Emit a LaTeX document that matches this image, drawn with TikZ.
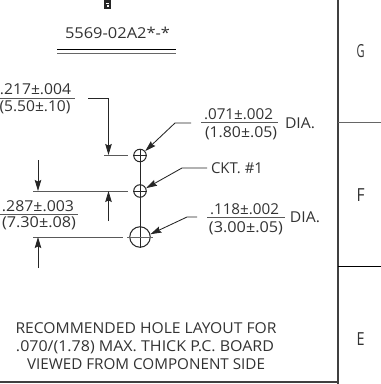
\documentclass[tikz,border=0pt]{standalone}
\usepackage{fontspec}
\usepackage{graphicx}
\setmainfont{Open Sans}
\usetikzlibrary{arrows.meta}
\newlength{\natw}
\newcommand{\fitw}[2]{\settowidth{\natw}{#2}\pgfmathsetmacro{\fitr}{#1pt/\natw}\scalebox{\fitr}[1]{#2}}
\tikzset{
  cad/.style={line width=0.85pt,draw=black!85},
  frame/.style={line width=1.4pt,draw=black!75},
  dim/.style={line width=1pt,draw=black!65},
  tip/.style={cad,-{Stealth[length=11pt,width=6.5pt,inset=1.5pt]}},
  lbl/.style={inner sep=0pt,outer sep=0pt,text=black!80,font=\fontsize{15}{17}\selectfont},
  big/.style={lbl,font=\fontsize{18}{20}\selectfont},
  hole/.style={circle,draw=black!85,line width=1pt,inner sep=0pt},
}
\begin{document}
\begin{tikzpicture}[x=1pt,y=-1pt]
\useasboundingbox (0,0) rectangle (381,384);
\fill[white] (0,0) rectangle (381,384);
% frame
\coordinate (ft) at (338,0); \coordinate (fb) at (338,384);
\coordinate (bl) at (0,382); \coordinate (br) at (338,382);
\coordinate (g0) at (338,122.5); \coordinate (g1) at (381,122.5);
\coordinate (f0) at (338,266); \coordinate (f1) at (381,266);
\draw[frame] (ft) -- (fb);
\draw[frame] (bl) -- (br);
\draw[line width=1pt,draw=black!60] (g0) -- (g1);
\draw[line width=0.8pt,draw=black] (f0) -- (f1);
\node[big] (G) at (360.5,51) {\fitw{8}{G}};
\node[big] (F) at (360.5,195) {\fitw{8}{F}};
\node[big] (E) at (360.5,339) {\fitw{8}{E}};
% top mark
\fill[black!85] (104,0) rectangle (111,9);
\fill[white] (106,2.5) rectangle (109,3.6);
\fill[white] (106.5,5.3) rectangle (108.5,7);
% title
\node[lbl] (title) at (117.5,33) {\fitw{105}{5569-02A2*-*}};
\coordinate (u1) at (57,49.5); \coordinate (u2) at (176,49.5);
\coordinate (u3) at (57,53.5); \coordinate (u4) at (176,53.5);
\draw[line width=0.8pt,draw=black] (u1) -- (u2);
\draw[line width=1pt,draw=black!60] (u3) -- (u4);
% holes
\node[hole,minimum size=12.5pt] (h1) at (140,155.5) {};
\node[hole,minimum size=12.5pt] (h2) at (140,191) {};
\node[hole,minimum size=20.5pt] (h3) at (140,237) {};
\draw[cad] (h1.north) -- (h3.south);
\draw[cad] (h1.west) -- (h1.east);
\draw[cad] (h2.west) -- (h2.east);
\coordinate (cl3a) at (127,237); \coordinate (cl3b) at (153,237);
\draw[line width=0.5pt,draw=black!60] (cl3a) -- (cl3b);
% .217
\node[lbl] (t217) at (35.5,89) {\fitw{71}{.217±.004}};
\node[lbl] (t550) at (35,107) {\fitw{71}{(5.50±.10)}};
\coordinate (l217a) at (0,98); \coordinate (l217b) at (75,98);
\draw[dim] (l217a) -- (l217b);
\coordinate (a1) at (88,98); \coordinate (a2) at (108.5,98); \coordinate (a3) at (108.5,155);
\draw[tip] (a1) -- (a2) -- (a3);
\coordinate (e1a) at (104,155.5); \coordinate (e1b) at (128,155.5);
\draw[dim] (e1a) -- (e1b);
% .287
\coordinate (e2a) at (33,191); \coordinate (e2b) at (128,191);
\draw[dim] (e2a) -- (e2b);
\coordinate (e3a) at (33,237); \coordinate (e3b) at (123,237);
\draw[dim] (e3a) -- (e3b);
\coordinate (b1) at (38,160); \coordinate (b2) at (38,191);
\draw[tip] (b1) -- (b2);
\coordinate (b3) at (38,268); \coordinate (b4) at (38,237);
\draw[tip] (b3) -- (b4);
\coordinate (b5) at (108.5,221); \coordinate (b6) at (108.5,191);
\draw[tip] (b5) -- (b6);
\node[lbl] (t287) at (38,206) {\fitw{72}{.287±.003}};
\node[lbl] (t730) at (39,223.5) {\fitw{74}{(7.30±.08)}};
\coordinate (l287a) at (0,214.5); \coordinate (l287b) at (78,214.5);
\draw[dim] (l287a) -- (l287b);
% leaders
\coordinate (c1) at (191,123); \coordinate (c2) at (175,123);
\draw[tip] (c1) -- (c2) -- (h1.40);
\coordinate (d1) at (207,168); \coordinate (d2) at (182,168);
\draw[tip] (d1) -- (d2) -- (h2.25);
\coordinate (k1) at (197,217); \coordinate (k2) at (187,217);
\draw[tip] (k1) -- (k2) -- (h3.15);
% .071
\node[lbl] (t071) at (238.5,114) {\fitw{69}{.071±.002}};
\node[lbl] (t180) at (241,133) {\fitw{72}{(1.80±.05)}};
\coordinate (l071a) at (201,122.7); \coordinate (l071b) at (278,122.7);
\draw[dim] (l071a) -- (l071b);
\node[lbl] (dia1) at (300,123) {\fitw{30}{DIA.}};
% ckt
\node[lbl] (ckt) at (237,168) {\fitw{52}{CKT. \#1}};
% .118
\node[lbl] (t118) at (244.5,209) {\fitw{69}{.118±.002}};
\node[lbl] (t300) at (246,228) {\fitw{74}{(3.00±.05)}};
\coordinate (l118a) at (207,217.3); \coordinate (l118b) at (285,217.3);
\draw[dim] (l118a) -- (l118b);
\node[lbl] (dia2) at (305,217.5) {\fitw{30}{DIA.}};
% note
\node[lbl] (n1) at (146,328) {\fitw{261}{RECOMMENDED HOLE LAYOUT FOR}};
\node[lbl] (n2) at (145,347) {\fitw{258}{.070/(1.78) MAX. THICK P.C. BOARD}};
\node[lbl] (n3) at (146,364) {\fitw{238}{VIEWED FROM COMPONENT SIDE}};
\end{tikzpicture}
\end{document}
